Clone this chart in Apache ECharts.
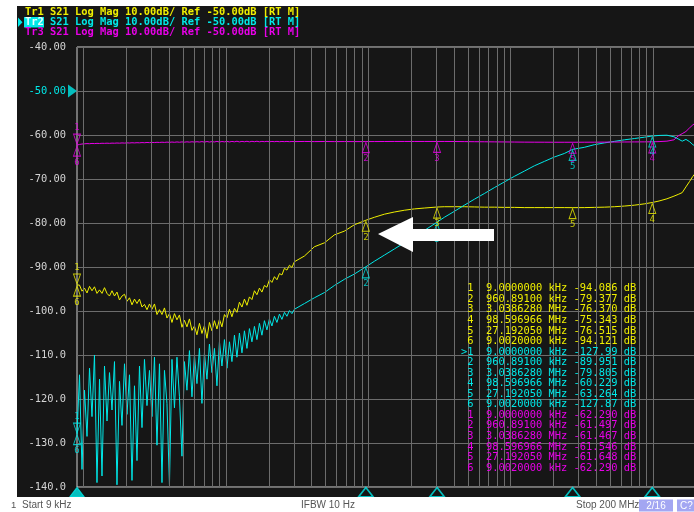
<!DOCTYPE html>
<html><head><meta charset="utf-8">
<script src="https://cdn.jsdelivr.net/npm/echarts/dist/echarts.min.js"></script>
<style>
html,body{margin:0;padding:0;background:#ffffff;}
#panel{position:absolute;left:17px;top:6px;width:677px;height:491px;background:#161616;}
#c{position:absolute;left:0;top:0;width:694px;height:512px;}
</style>
</head><body><div id="panel"></div><div id="c"></div>
<script>
// Sweep frequencies (Hz)
const freqs = [
 9000, 9370, 9760, 10160, 10580, 11020, 11470, 11940, 12430, 12950,
 13480, 14040, 14620, 15220, 15850, 16500, 17180, 17890, 18630, 19400,
 20200, 21030, 21900, 22800, 23740, 24720, 25740, 26800, 27900, 29050,
 30250, 31500, 32800, 34150, 35560, 37020, 38550, 40140, 41790, 43510,
 45310, 47170, 49120, 51140, 53250, 55450, 57740, 60120, 62600, 65180,
 67870, 70670, 73590, 76620, 79780, 83070, 86500, 90070, 93780, 97650,
 101700, 105900, 110200, 114800, 119500, 124400, 129600, 134900, 140500, 146300,
 152300, 158600, 165100, 171900, 179000, 186400, 194100, 202100, 210500, 219100,
 228200, 237600, 247400, 257600, 268200, 279300, 290800, 302800, 356000, 418000,
 492000, 578000, 679000, 798000, 960891, 1103000, 1296000, 1524000, 1791000, 2105000,
 2475000, 3038628, 3420000, 4020000, 4725000, 5554000, 6529000, 7675000, 9022000, 10600000,
 12470000, 14650000, 17230000, 20250000, 23800000, 27192050, 32890000, 38660000, 45450000, 53420000,
 62800000, 73820000, 86780000, 98596966, 110000000, 125000000, 140000000, 150000000, 160000000, 170000000,
 180000000, 190000000, 200000000
];
// Tr1 (yellow) dB
const tr1 = [
 -94.09, -94.1, -95.5, -94.8, -95.9, -94.4, -95.4, -94.5, -96.0, -95.2,
 -96.0, -94.7, -96.0, -96.6, -95.4, -96.6, -95.7, -97.5, -96.6, -96.2,
 -97.8, -97.0, -98.6, -97.3, -98.3, -97.3, -99.1, -98.5, -99.7, -98.4,
 -99.6, -98.4, -100.8, -99.7, -100.8, -99.3, -101.6, -100.6, -102.6, -100.6,
 -102.0, -100.9, -103.7, -102.1, -103.6, -101.8, -104.4, -103.4, -105.4, -102.8,
 -105.1, -103.3, -106.2, -102.6, -104.5, -102.2, -104.1, -101.9, -103.6, -100.8,
 -101.6, -99.6, -101.3, -99.4, -100.3, -98.0, -99.1, -97.3, -98.7, -96.8,
 -97.4, -95.4, -96.3, -94.8, -95.7, -94.2, -94.6, -92.9, -93.5, -92.2,
 -92.9, -91.5, -91.8, -90.3, -90.7, -89.6, -90.1, -88.8, -87.5, -85.4,
 -84.5, -82.7, -81.85, -80.4, -79.377, -78.7, -78.0, -77.5, -77.1, -76.8,
 -76.6, -76.37, -76.3, -76.3, -76.3, -76.35, -76.4, -76.4, -76.45, -76.45,
 -76.5, -76.5, -76.5, -76.5, -76.5, -76.515, -76.5, -76.45, -76.4, -76.3,
 -76.15, -75.95, -75.65, -75.343, -75.0, -74.5, -73.9, -73.5, -73.1, -71.8,
 -70.6, -69.4, -68.5
];
// Tr2 (cyan) dB
const tr2 = [
 -127.99, -114.5, -136.0, -118.0, -128.5, -113.0, -124.0, -110.0, -139.0, -115.5,
 -137.5, -112.5, -125.0, -114.0, -122.5, -111.5, -139.5, -116.0, -126.0, -112.0,
 -123.5, -114.5, -138.5, -117.0, -134.0, -112.5, -126.5, -111.0, -121.5, -113.5,
 -124.0, -110.5, -130.5, -112.0, -139.0, -113.5, -121.0, -139.5, -111.0, -122.0,
 -110.5, -119.5, -133.0, -111.5, -118.0, -109.0, -119.5, -110.0, -116.5, -108.5,
 -121.0, -109.5, -115.5, -107.5, -114.0, -108.5, -117.0, -107.0, -112.5, -106.5,
 -113.0, -107.0, -111.5, -105.5, -110.5, -105.0, -109.5, -104.5, -108.5, -104.0,
 -107.0, -103.5, -106.5, -102.8, -105.5, -102.2, -104.3, -101.8, -103.4, -101.2,
 -102.6, -100.7, -101.9, -100.3, -101.2, -99.9, -100.6, -99.6, -98.3, -97.0,
 -95.8, -94.2, -92.8, -91.6, -89.951, -88.7, -87.3, -85.9, -84.5, -83.1,
 -81.7, -79.805, -78.7, -77.35, -75.95, -74.6, -73.3, -71.96, -70.67, -69.4,
 -68.2, -67.0, -66.0, -65.0, -64.2, -63.264, -62.8, -62.2, -61.8, -61.45,
 -61.1, -60.8, -60.5, -60.229, -60.1, -60.05, -60.4, -60.9, -61.4, -61.0,
 -61.5, -62.2, -62.6
];
// Tr3 (magenta) dB
const tr3 = [
 -62.29, -62.15, -62.05, -62.0, -61.95, -61.98, -61.92, -61.95, -61.9, -61.93,
 -61.88, -61.9, -61.86, -61.9, -61.85, -61.87, -61.82, -61.86, -61.8, -61.84,
 -61.78, -61.82, -61.76, -61.8, -61.75, -61.78, -61.72, -61.76, -61.7, -61.74,
 -61.68, -61.72, -61.66, -61.7, -61.64, -61.69, -61.62, -61.67, -61.6, -61.66,
 -61.58, -61.65, -61.57, -61.63, -61.55, -61.62, -61.54, -61.61, -61.52, -61.6,
 -61.5, -61.62, -61.48, -61.6, -61.5, -61.58, -61.45, -61.6, -61.48, -61.56,
 -61.44, -61.58, -61.46, -61.55, -61.42, -61.57, -61.45, -61.54, -61.43, -61.56,
 -61.44, -61.53, -61.42, -61.55, -61.45, -61.52, -61.44, -61.54, -61.46, -61.52,
 -61.45, -61.53, -61.47, -61.51, -61.46, -61.52, -61.48, -61.5, -61.47, -61.5,
 -61.48, -61.5, -61.49, -61.5, -61.497, -61.49, -61.48, -61.47, -61.47, -61.47,
 -61.47, -61.467, -61.47, -61.48, -61.5, -61.52, -61.54, -61.56, -61.58, -61.6,
 -61.62, -61.63, -61.64, -61.65, -61.65, -61.648, -61.64, -61.63, -61.62, -61.6,
 -61.59, -61.57, -61.56, -61.546, -61.5, -61.4, -61.1, -60.2, -59.7, -59.2,
 -58.4, -57.7, -57.2
];
// Markers
const markerFreqs = [9000, 960891, 3038628, 98596966, 27192050, 9002];
const markerFreqLabels = ['9.0000000 kHz', '960.89100 kHz', '3.0386280 MHz', '98.596966 MHz', '27.192050 MHz', '9.0020000 kHz'];
const markerVals1 = [-94.086, -79.377, -76.370, -75.343, -76.515, -94.121];
const markerVals2 = [-127.99, -89.951, -79.805, -60.229, -63.264, -127.87];
const markerVals3 = [-62.290, -61.497, -61.467, -61.546, -61.648, -62.290];
// Axis
const yTicks = [-40, -50, -60, -70, -80, -90, -100, -110, -120, -130, -140];
const yTickLabels = ['-40.00', '-50.00', '-60.00', '-70.00', '-80.00', '-90.00', '-100.0', '-110.0', '-120.0', '-130.0', '-140.0'];
const gridFreqs = [10000, 20000, 30000, 40000, 50000, 60000, 70000, 80000, 90000,
 100000, 200000, 300000, 400000, 500000, 600000, 700000, 800000, 900000,
 1000000, 2000000, 3000000, 4000000, 5000000, 6000000, 7000000, 8000000, 9000000,
 10000000, 20000000, 30000000, 40000000, 50000000, 60000000, 70000000, 80000000, 90000000,
 100000000, 200000000];
const headerLines = [
 'Tr1 S21 Log Mag 10.00dB/ Ref -50.00dB [RT M]',
 'Tr2 S21 Log Mag 10.00dB/ Ref -50.00dB [RT M]',
 'Tr3 S21 Log Mag 10.00dB/ Ref -50.00dB [RT M]'
];
const refLevel = -50;
const startLabel = 'Start 9 kHz', ifbwLabel = 'IFBW 10 Hz', stopLabel = 'Stop 200 MHz';

const YEL = '#f0f000', CYA = '#00e8e8', MAG = '#e800e8';
const GRIDC = '#6c6c6c';
const MONO = '"DejaVu Sans Mono", monospace';
const traces = [
  {vals: tr1, color: YEL, mv: markerVals1},
  {vals: tr2, color: CYA, mv: markerVals2},
  {vals: tr3, color: MAG, mv: markerVals3}
];
const zip = v => v.map((d, i) => [freqs[i], d]);
const downTri = 'path://M0,0L10,0L5,10Z';
const rightTri = 'path://M0,0L10,5L0,10Z';

const series = [];
series.push({
  type: 'line', data: [[9000, -140]], symbol: 'none', lineStyle: {opacity: 0}, silent: true, z: 1,
  markLine: {silent: true, symbol: 'none', label: {show: false}, animation: false,
    lineStyle: {color: GRIDC, width: 1, type: 'solid'},
    data: gridFreqs.map(f => ({xAxis: f}))}
});
traces.forEach(t => series.push({
  type: 'line', data: zip(t.vals), showSymbol: false, symbol: 'none', silent: true, z: 3,
  lineStyle: {color: t.color, width: 1}
}));
traces.forEach(t => series.push({
  type: 'scatter', z: 5, clip: false, silent: true,
  symbolSize: [7, 10],
  itemStyle: {color: 'rgba(0,0,0,0)', borderColor: t.color, borderWidth: 1},
  label: {show: true, formatter: '{b}', color: t.color, fontSize: 9, fontFamily: MONO, distance: 1},
  data: markerFreqs.map((f, i) => ({
    value: [f, t.mv[i]], name: String(i + 1),
    symbol: i === 0 ? downTri : 'triangle',
    symbolOffset: i === 0 ? [0, -6] : [0, 6],
    label: {position: i === 0 ? 'top' : 'bottom'}
  }))
}));
// active trace markers on the stimulus axis
series.push({
  type: 'scatter', z: 6, clip: false, silent: true, symbol: 'triangle', symbolSize: [14, 9], symbolOffset: [0, 5],
  data: markerFreqs.slice(0, 5).map((f, i) => ({
    value: [f, -140],
    itemStyle: i === 0 ? {color: CYA, borderColor: CYA, borderWidth: 1} : {color: 'rgba(0,0,0,0)', borderColor: CYA, borderWidth: 1.5}
  }))
});
// reference level marker
series.push({
  type: 'scatter', z: 6, clip: false, silent: true, symbol: rightTri, symbolSize: [9, 13], symbolOffset: [-4.5, 0],
  itemStyle: {color: CYA}, data: [[markerFreqs[0], refLevel]]
});

const graphic = [];
const hdrY = [12.5, 22.2, 31.8];
const hdrCol = [YEL, CYA, MAG];
graphic.push({type: 'rect', z: 10, shape: {x: 24, y: 17, width: 20, height: 10.5}, style: {fill: CYA}});
graphic.push({type: 'polygon', z: 10, shape: {points: [[18, 17.5], [22.5, 22.2], [18, 27]]}, style: {fill: CYA}});
headerLines.forEach((s, i) => graphic.push({type: 'text', z: 11, x: 25, y: hdrY[i],
  style: {text: s, fill: hdrCol[i], font: 'bold 10.4px ' + MONO, verticalAlign: 'middle', textVerticalAlign: 'middle'}}));
graphic.push({type: 'text', z: 12, x: 25, y: hdrY[1],
  style: {text: headerLines[1].slice(0, 3), fill: '#e8ffff', font: 'bold 10.4px ' + MONO, verticalAlign: 'middle', textVerticalAlign: 'middle'}});

// marker table
const fmt = v => Math.abs(v) >= 100 ? v.toFixed(2) : v.toFixed(3);
let row = 0;
traces.forEach((t, ti) => {
  markerFreqLabels.forEach((lab, i) => {
    const pre = (ti === 1 && i === 0) ? '>' : ' ';
    graphic.push({type: 'text', z: 11, x: 461, y: 288.6 + row * 10.55,
      style: {text: pre + (i + 1) + '  ' + lab + ' ' + fmt(t.mv[i]) + ' dB', fill: t.color,
        font: '10.4px ' + MONO, verticalAlign: 'middle', textVerticalAlign: 'middle'}});
    row++;
  });
});
// annotation arrow
graphic.push({type: 'polygon', z: 20,
  shape: {points: [[378, 234], [413, 217], [413, 229], [494, 229], [494, 241], [413, 241], [413, 252]]},
  style: {fill: '#ffffff'}});
// status bar
const SANS = '"Liberation Sans", "DejaVu Sans", sans-serif';
graphic.push({type: 'text', z: 11, x: 11, y: 505.5, style: {text: '1', fill: '#555', font: '9.5px ' + SANS, verticalAlign: 'middle', textVerticalAlign: 'middle'}});
graphic.push({type: 'text', z: 11, x: 22, y: 505.5, style: {text: startLabel, fill: '#555', font: '10px ' + SANS, verticalAlign: 'middle', textVerticalAlign: 'middle'}});
graphic.push({type: 'text', z: 11, x: 301, y: 505.5, style: {text: ifbwLabel, fill: '#555', font: '10px ' + SANS, verticalAlign: 'middle', textVerticalAlign: 'middle'}});
graphic.push({type: 'text', z: 11, x: 576, y: 505.5, style: {text: stopLabel, fill: '#555', font: '10px ' + SANS, verticalAlign: 'middle', textVerticalAlign: 'middle'}});
graphic.push({type: 'rect', z: 10, shape: {x: 639, y: 499.5, width: 34, height: 12}, style: {fill: '#a3a6f2'}});
graphic.push({type: 'text', z: 11, x: 656, y: 505.8, style: {text: '2/16', fill: '#ffffff', font: '10px ' + SANS, align: 'center', textAlign: 'center', verticalAlign: 'middle', textVerticalAlign: 'middle'}});
graphic.push({type: 'rect', z: 10, shape: {x: 677, y: 499.5, width: 20, height: 12}, style: {fill: '#a3a6f2'}});
graphic.push({type: 'text', z: 11, x: 680, y: 505.8, style: {text: 'C?', fill: '#ffffff', font: '10px ' + SANS, verticalAlign: 'middle', textVerticalAlign: 'middle'}});

const chart = echarts.init(document.getElementById('c'), null, {renderer: 'canvas'});
chart.setOption({
  backgroundColor: 'transparent',
  animation: false,
  grid: {left: 77, right: -2, top: 47, bottom: 25, show: true, borderColor: '#d0d0d0', borderWidth: 1,
    backgroundColor: 'transparent', containLabel: false, outerBoundsMode: 'none'},
  xAxis: {type: 'log', logBase: 10, min: 9000, max: 200000000,
    axisLine: {show: false}, axisTick: {show: false}, axisLabel: {show: false},
    splitLine: {show: false}, minorTick: {show: false}, minorSplitLine: {show: false}},
  yAxis: {type: 'value', min: -140, max: -40, interval: 10,
    axisLine: {show: false}, axisTick: {show: false},
    splitLine: {show: true, lineStyle: {color: GRIDC, width: 1}},
    axisLabel: {margin: 11, fontFamily: MONO, fontSize: 10.4, showMinLabel: true, showMaxLabel: true,
      color: v => (Number(v) === refLevel ? CYA : '#d4d4d4'),
      formatter: v => { const k = yTicks.indexOf(Number(v)); return k >= 0 ? yTickLabels[k] : ''; }}},
  series: series,
  graphic: graphic
});
</script>
</body></html>
